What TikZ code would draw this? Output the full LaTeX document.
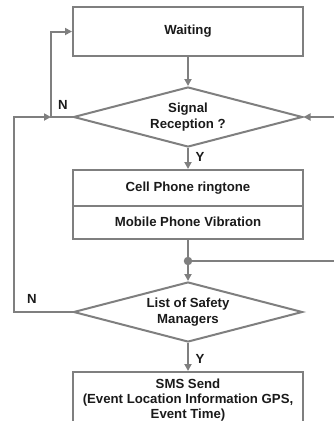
\documentclass[tikz,border=0pt]{standalone}
\usepackage{fontspec}
\setmainfont{Liberation Sans}
\usetikzlibrary{shapes.geometric,arrows.meta}
\definecolor{linegray}{HTML}{7F7F7F}
\definecolor{txt}{HTML}{1A1A1A}
\tikzset{
  flow/.style={draw=linegray, line width=2pt},
  arr/.style={flow, -{Triangle[length=7pt,width=7pt]}},
  procbox/.style={flow, rectangle, minimum width=230pt, inner sep=0pt,
    font=\bfseries\fontsize{13.2}{15}\selectfont, text=txt, align=center},
  decide/.style={flow, diamond, aspect=3.8, minimum width=229pt, minimum height=60pt,
    inner sep=0pt, font=\bfseries\fontsize{13.2}{15.5}\selectfont, text=txt, align=center},
  junction/.style={circle, fill=linegray, minimum size=8.5pt, inner sep=0pt},
  yn/.style={font=\bfseries\fontsize{13.2}{14}\selectfont, text=txt, inner sep=0pt}
}
\begin{document}
\begin{tikzpicture}[x=1pt,y=-1pt]
\useasboundingbox (0,0) rectangle (333,421);

% process and decision nodes
\node[procbox, minimum height=49pt] (wait) at (188,31.5) {\raisebox{-1.5pt}{Waiting}};
\node[decide] (d1) at (188,117) {Signal\\Reception ?};
\node[procbox, minimum height=35.5pt] (ring) at (188,187.75) {Cell Phone ringtone};
\node[procbox, minimum height=33.5pt] (vib) at (188,222.25) {Mobile Phone Vibration};
\node[junction] (jd) at (188,261) {};
\node[decide] (d2) at (188,312) {List of Safety\\Managers};
\node[procbox, minimum height=56pt] (sms) at (188,400) {SMS Send\\(Event Location Information GPS,\\Event Time)};

% helper points for the loops
\coordinate (jl) at (51,117);
\coordinate (fl) at (14,117);
\coordinate (er1) at (340,117);
\coordinate (er2) at (340,261);

% main flow
\draw[arr] (wait.south) -- (d1.north);
\draw[arr] (d1.south) -- (ring.north);
\draw[flow] (vib.south) -- (jd);
\draw[arr] (jd) -- (d2.north);
\draw[arr] (d2.south) -- (sms.north);

% loops
\draw[arr] (d1.west) -- (jl) |- (wait.west);
\draw[arr] (d2.west) -| (fl) -- (jl);
\draw[arr] (er1) -- (d1.east);
\draw[flow] (jd) -- (er2);

% branch labels
\node[yn] (n1) at (63,105) {N};
\node[yn] (y1) at (200,157) {Y};
\node[yn] (n2) at (32,299) {N};
\node[yn] (y2) at (200,359) {Y};
\end{tikzpicture}
\end{document}
